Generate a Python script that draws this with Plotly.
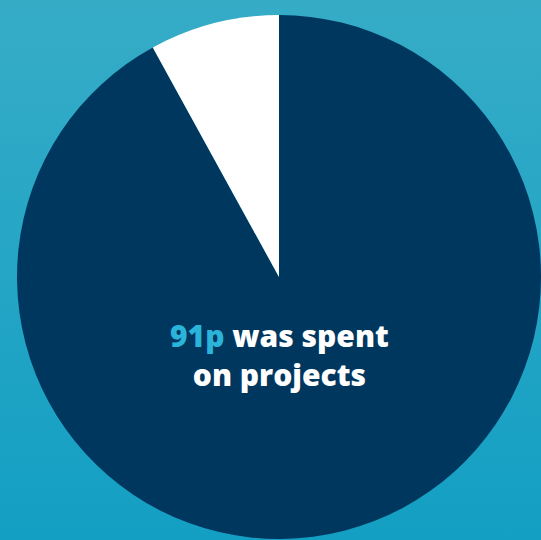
import base64
import plotly.graph_objects as go

labels = ["Spent on projects", "Other"]
values = [92, 8]
colors = ["#00375f", "#ffffff"]
headline_value = "91p"
headline_rest = " was spent"
headline_line2 = "on projects"

svg = (
    "<svg xmlns='http://www.w3.org/2000/svg' width='100' height='100' preserveAspectRatio='none'>"
    "<defs><linearGradient id='g' x1='0' y1='0' x2='0' y2='1'>"
    "<stop offset='0' stop-color='#36acc7'/><stop offset='1' stop-color='#139fc3'/>"
    "</linearGradient></defs><rect width='100' height='100' fill='url(#g)'/></svg>"
)
bg_uri = "data:image/svg+xml;base64," + base64.b64encode(svg.encode()).decode()

fig = go.Figure(
    go.Pie(
        labels=labels,
        values=values,
        marker=dict(colors=colors, line=dict(width=0)),
        sort=False,
        direction="clockwise",
        rotation=0,
        textinfo="none",
        hoverinfo="label+percent",
        showlegend=False,
        domain=dict(x=[17 / 541, 1], y=[0, 1 - 14 / 540]),
    )
)

fig.add_layout_image(
    dict(
        source=bg_uri, xref="paper", yref="paper", x=0, y=1,
        sizex=1, sizey=1, sizing="stretch", layer="below",
        xanchor="left", yanchor="top",
    )
)

fig.add_annotation(
    text=f"<span style='color:#2ab4d9'>{headline_value}</span>{headline_rest}<br>{headline_line2}",
    x=279 / 541, y=1 - 355 / 540, xref="paper", yref="paper",
    showarrow=False, align="center",
    font=dict(family="Open Sans", size=30, color="#ffffff", weight=800),
)

fig.update_layout(
    width=541, height=540,
    margin=dict(l=0, r=0, t=0, b=0),
    paper_bgcolor="#22a6c5",
    plot_bgcolor="rgba(0,0,0,0)",
)

fig.write_html("out.html")
